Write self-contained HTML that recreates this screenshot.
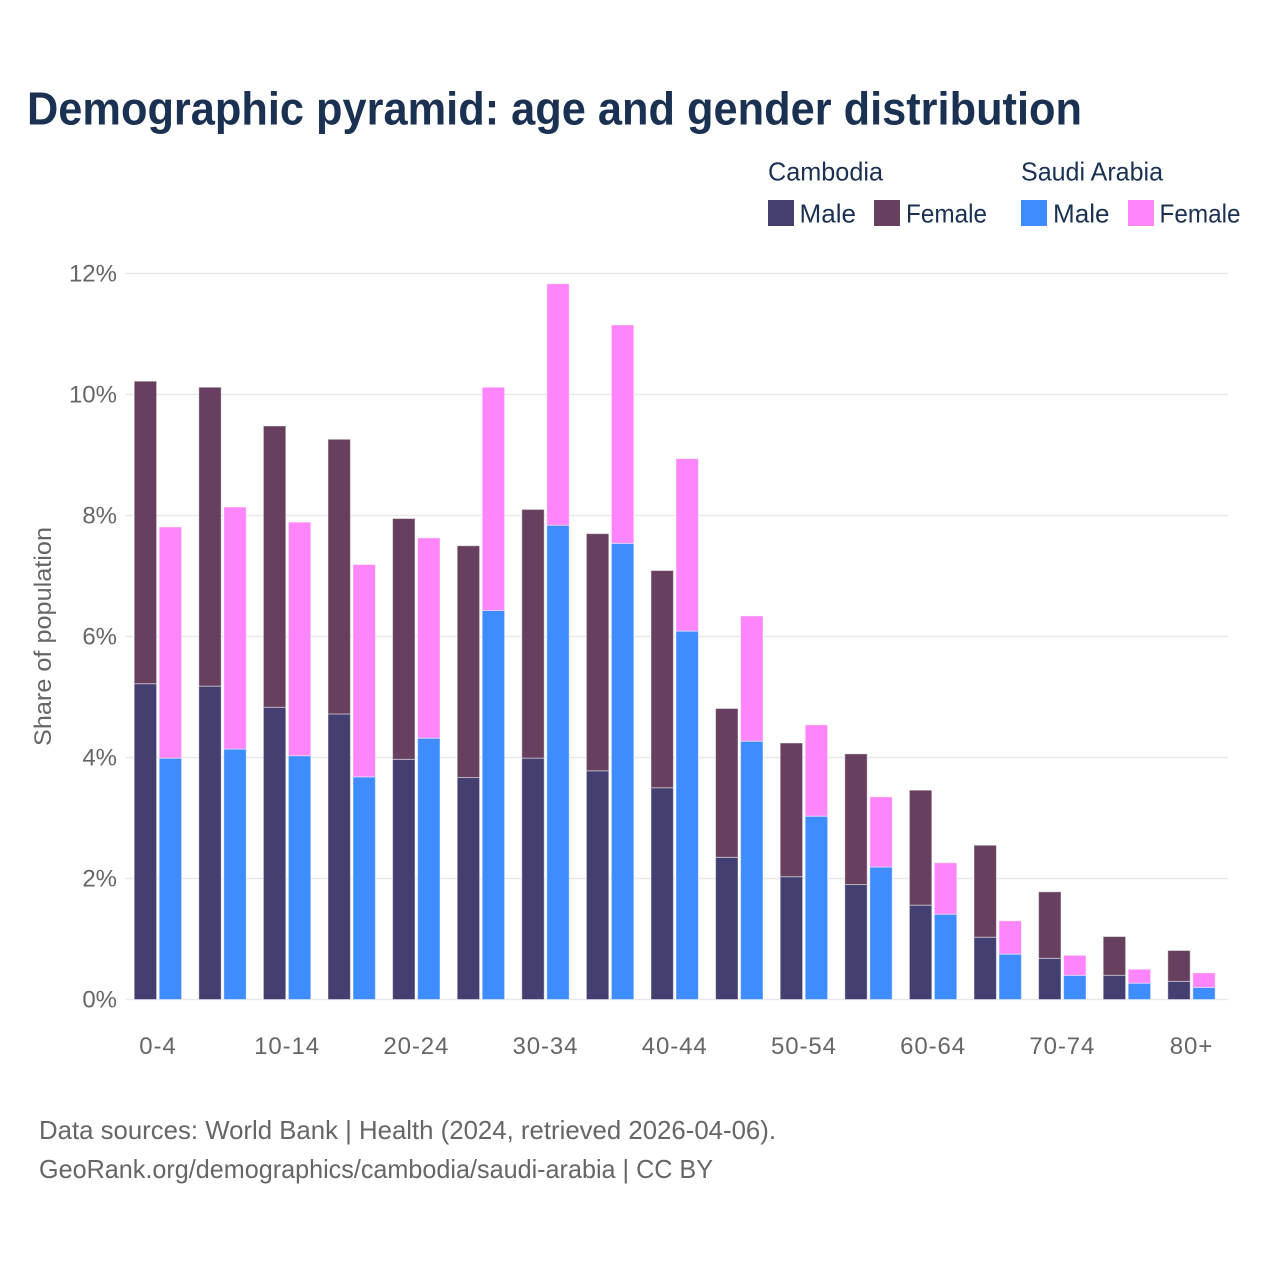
<!DOCTYPE html>
<html lang="en">
<head>
<meta charset="utf-8">
<title>Demographic pyramid: age and gender distribution</title>
<style>
html,body{margin:0;padding:0;background:#fff;width:1280px;height:1280px;overflow:hidden}
svg{display:block}
text{font-family:"Liberation Sans",sans-serif}
.legend{fill:#1a3152;font-size:26px}
.note{fill:#666;font-size:26px}
.tick{fill:#666;font-size:24px}
</style>
</head>
<body>
<svg id="chart" xmlns="http://www.w3.org/2000/svg" width="1280" height="1280" viewBox="0 0 1280 1280">
  <rect width="1280" height="1280" fill="#fff"/>
  <text x="27" y="124.5" font-size="46" font-weight="700" fill="#1a3152" textLength="1055" lengthAdjust="spacingAndGlyphs">Demographic pyramid: age and gender distribution</text>

  <g>
    <text class="legend" x="768" y="180.5" textLength="115" lengthAdjust="spacingAndGlyphs">Cambodia</text>
    <text class="legend" x="1021" y="180.5" textLength="142" lengthAdjust="spacingAndGlyphs">Saudi Arabia</text>
    <rect x="768" y="200" width="26" height="26" fill="#433f70"/>
    <text class="legend" x="799.5" y="222.5" textLength="56.5" lengthAdjust="spacingAndGlyphs">Male</text>
    <rect x="874" y="200" width="26" height="26" fill="#674060"/>
    <text class="legend" x="906" y="222.5" textLength="81" lengthAdjust="spacingAndGlyphs">Female</text>
    <rect x="1021" y="200" width="26" height="26" fill="#3f8cff"/>
    <text class="legend" x="1053" y="222.5" textLength="56.5" lengthAdjust="spacingAndGlyphs">Male</text>
    <rect x="1128" y="200" width="26" height="26" fill="#ff85fb"/>
    <text class="legend" x="1159.5" y="222.5" textLength="81" lengthAdjust="spacingAndGlyphs">Female</text>
  </g>

  <g id="grid"></g>
  <g id="bars"></g>
  <g id="yticks"></g>
  <g id="xticks"></g>

  <text class="tick" font-size="25" transform="translate(51,636.5) rotate(-90)" text-anchor="middle" textLength="219" lengthAdjust="spacingAndGlyphs">Share of population</text>

  <text class="note" x="39" y="1139" textLength="737" lengthAdjust="spacingAndGlyphs">Data sources: World Bank | Health (2024, retrieved 2026-04-06).</text>
  <text class="note" x="39" y="1178" textLength="674" lengthAdjust="spacingAndGlyphs">GeoRank.org/demographics/cambodia/saudi-arabia | CC BY</text>
</svg>
<script>
const categories = ["0-4","5-9","10-14","15-19","20-24","25-29","30-34","35-39","40-44","45-49","50-54","55-59","60-64","65-69","70-74","75-79","80+"];
const cambodiaMale = [5.22,5.18,4.83,4.72,3.97,3.67,3.99,3.78,3.50,2.35,2.03,1.90,1.56,1.03,0.68,0.40,0.30];
const cambodiaFemale = [5.00,4.94,4.65,4.54,3.98,3.83,4.11,3.92,3.59,2.46,2.21,2.16,1.90,1.52,1.10,0.64,0.51];
const saudiMale = [3.99,4.14,4.03,3.68,4.32,6.43,7.84,7.54,6.09,4.27,3.03,2.19,1.41,0.75,0.40,0.27,0.20];
const saudiFemale = [3.82,4.00,3.86,3.51,3.31,3.69,3.99,3.61,2.85,2.07,1.51,1.16,0.85,0.55,0.33,0.23,0.24];
const yTicks = [0,2,4,6,8,10,12];

const NS = "http://www.w3.org/2000/svg";
const plotLeft = 125.5, plotRight = 1228;
const y0 = 999.5, pxPerUnit = 60.5;
const firstCenter = 157.9, step = 64.6;
const barW = 22.4;
const yScale = function (v) { return y0 - v * pxPerUnit; };
const xCenter = function (i) { return firstCenter + i * step; };

const gridG = document.getElementById("grid");
const barsG = document.getElementById("bars");
const yG = document.getElementById("yticks");
const xG = document.getElementById("xticks");

yTicks.forEach(function (t) {
  const line = document.createElementNS(NS, "line");
  line.setAttribute("x1", plotLeft);
  line.setAttribute("x2", plotRight);
  line.setAttribute("y1", yScale(t));
  line.setAttribute("y2", yScale(t));
  line.setAttribute("stroke", "#e9e9e9");
  line.setAttribute("stroke-width", "1.4");
  
  
  gridG.appendChild(line);

  const label = document.createElementNS(NS, "text");
  label.setAttribute("class", "tick");
  label.setAttribute("x", 117);
  label.setAttribute("y", yScale(t) + 8.2);
  label.setAttribute("text-anchor", "end");
  label.textContent = t + "%";
  
  
  yG.appendChild(label);
});

function addSegment(x, base, value, fill, name) {
  const r = document.createElementNS(NS, "rect");
  r.setAttribute("x", x);
  r.setAttribute("y", yScale(base + value));
  r.setAttribute("width", barW);
  r.setAttribute("height", value * pxPerUnit);
  r.setAttribute("fill", fill);
  r.setAttribute("stroke", "#fff");
  r.setAttribute("stroke-opacity", "0.45");
  r.setAttribute("stroke-width", "1");
  
  
  barsG.appendChild(r);
}

categories.forEach(function (cat, i) {
  const c = xCenter(i);
  const xA = c - 23.7;
  const xB = c + 1.3;
  addSegment(xA, 0, cambodiaMale[i], "#433f70", "bar-cambodia-male");
  addSegment(xA, cambodiaMale[i], cambodiaFemale[i], "#674060", "bar-cambodia-female");
  addSegment(xB, 0, saudiMale[i], "#3f8cff", "bar-saudi-male");
  addSegment(xB, saudiMale[i], saudiFemale[i], "#ff85fb", "bar-saudi-female");

  if (i % 2 === 0) {
    const label = document.createElementNS(NS, "text");
    label.setAttribute("class", "tick");
    label.setAttribute("x", c);
    label.setAttribute("y", 1054);
    label.setAttribute("text-anchor", "middle");
    label.setAttribute("letter-spacing", "0.9");
    label.textContent = cat;
    
    
    xG.appendChild(label);
  }
});
</script>
</body>
</html>
